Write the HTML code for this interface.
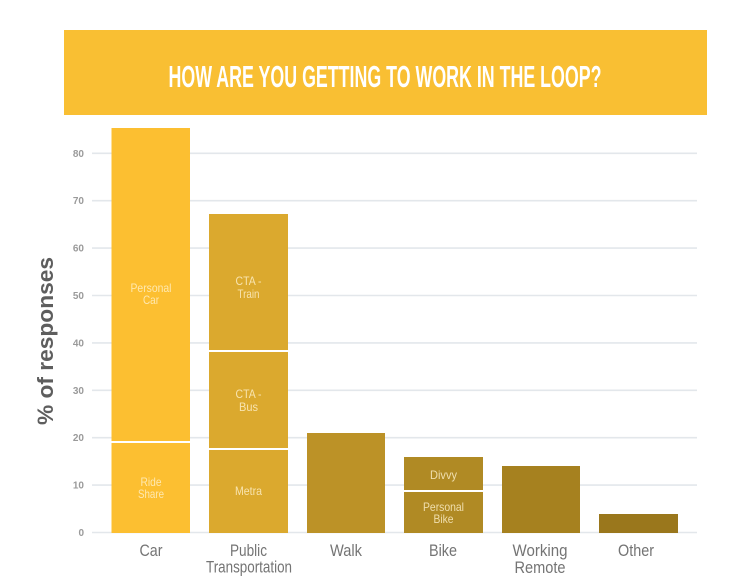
<!DOCTYPE html>
<html><head><meta charset="utf-8"><style>
html,body{margin:0;padding:0;background:#fff;}
svg{display:block;}
text{font-family:"Liberation Sans",sans-serif;}
</style></head><body>
<svg width="750" height="584" viewBox="0 0 750 584" xmlns="http://www.w3.org/2000/svg">
<rect x="0" y="0" width="750" height="584" fill="#ffffff"/>
<!-- banner -->
<rect x="64" y="30" width="643" height="85" fill="#F9BF33"/>
<text x="385" y="87" font-size="31" font-weight="bold" fill="#ffffff" text-anchor="middle" textLength="433" lengthAdjust="spacingAndGlyphs">HOW ARE YOU GETTING TO WORK IN THE LOOP?</text>

<!-- gridlines -->
<g stroke="#E3E7EB" stroke-width="1.6">
<line x1="92" y1="532.5" x2="697" y2="532.5"/>
<line x1="92" y1="485.1" x2="697" y2="485.1"/>
<line x1="92" y1="437.7" x2="697" y2="437.7"/>
<line x1="92" y1="390.3" x2="697" y2="390.3"/>
<line x1="92" y1="342.9" x2="697" y2="342.9"/>
<line x1="92" y1="295.5" x2="697" y2="295.5"/>
<line x1="92" y1="248.1" x2="697" y2="248.1"/>
<line x1="92" y1="200.7" x2="697" y2="200.7"/>
<line x1="92" y1="153.3" x2="697" y2="153.3"/>
</g>
<!-- tick labels -->
<g font-size="10" font-weight="bold" fill="#9A9A9A" text-anchor="end">
<text x="84" y="536">0</text>
<text x="84" y="488.6">10</text>
<text x="84" y="441.2">20</text>
<text x="84" y="393.8">30</text>
<text x="84" y="346.4">40</text>
<text x="84" y="299">50</text>
<text x="84" y="251.6">60</text>
<text x="84" y="204.2">70</text>
<text x="84" y="156.8">80</text>
</g>
<!-- y axis title -->
<text transform="translate(53,341) rotate(-90)" x="0" y="0" font-size="22" font-weight="bold" fill="#5E5E5E" text-anchor="middle" textLength="168" lengthAdjust="spacingAndGlyphs">% of responses</text>

<!-- bars -->
<rect x="111.5" y="128" width="78.5" height="313" fill="#FCBF31"/>
<rect x="111.5" y="443" width="78.5" height="90" fill="#FCBF31"/>
<rect x="209" y="214" width="79" height="136" fill="#DBA92E"/>
<rect x="209" y="352" width="79" height="96" fill="#DBA92E"/>
<rect x="209" y="450" width="79" height="83" fill="#DBA92E"/>
<rect x="307" y="433" width="78" height="100" fill="#BC9227"/>
<rect x="404" y="457" width="79" height="33" fill="#B08A24"/>
<rect x="404" y="492" width="79" height="41" fill="#B08A24"/>
<rect x="502" y="466" width="78" height="67" fill="#A6811F"/>
<rect x="599" y="514" width="79" height="19" fill="#9A771C"/>

<!-- inner labels -->
<g font-size="12" fill="#FFF3D0" fill-opacity="0.8" text-anchor="middle">
<text x="151" y="292" textLength="41" lengthAdjust="spacingAndGlyphs">Personal</text>
<text x="151" y="304" textLength="16" lengthAdjust="spacingAndGlyphs">Car</text>
<text x="151" y="486" textLength="21" lengthAdjust="spacingAndGlyphs">Ride</text>
<text x="151" y="498" textLength="26" lengthAdjust="spacingAndGlyphs">Share</text>
<text x="248.5" y="285" textLength="26" lengthAdjust="spacingAndGlyphs">CTA -</text>
<text x="248.5" y="298" textLength="22" lengthAdjust="spacingAndGlyphs">Train</text>
<text x="248.5" y="398" textLength="26" lengthAdjust="spacingAndGlyphs">CTA -</text>
<text x="248.5" y="411" textLength="19" lengthAdjust="spacingAndGlyphs">Bus</text>
<text x="248.5" y="495" textLength="27" lengthAdjust="spacingAndGlyphs">Metra</text>
<text x="443.5" y="479" textLength="27" lengthAdjust="spacingAndGlyphs">Divvy</text>
<text x="443.5" y="511" textLength="41" lengthAdjust="spacingAndGlyphs">Personal</text>
<text x="443.5" y="523" textLength="20" lengthAdjust="spacingAndGlyphs">Bike</text>
</g>

<!-- x labels -->
<g font-size="17" fill="#747474" text-anchor="middle">
<text x="151" y="556" textLength="23" lengthAdjust="spacingAndGlyphs">Car</text>
<text x="248.5" y="556" textLength="37" lengthAdjust="spacingAndGlyphs">Public</text>
<text x="249" y="572.5" textLength="86" lengthAdjust="spacingAndGlyphs">Transportation</text>
<text x="346" y="556" textLength="32" lengthAdjust="spacingAndGlyphs">Walk</text>
<text x="443" y="556" textLength="28" lengthAdjust="spacingAndGlyphs">Bike</text>
<text x="540" y="556" textLength="55" lengthAdjust="spacingAndGlyphs">Working</text>
<text x="540" y="573" textLength="51" lengthAdjust="spacingAndGlyphs">Remote</text>
<text x="636" y="556" textLength="36" lengthAdjust="spacingAndGlyphs">Other</text>
</g>
</svg>
</body></html>
